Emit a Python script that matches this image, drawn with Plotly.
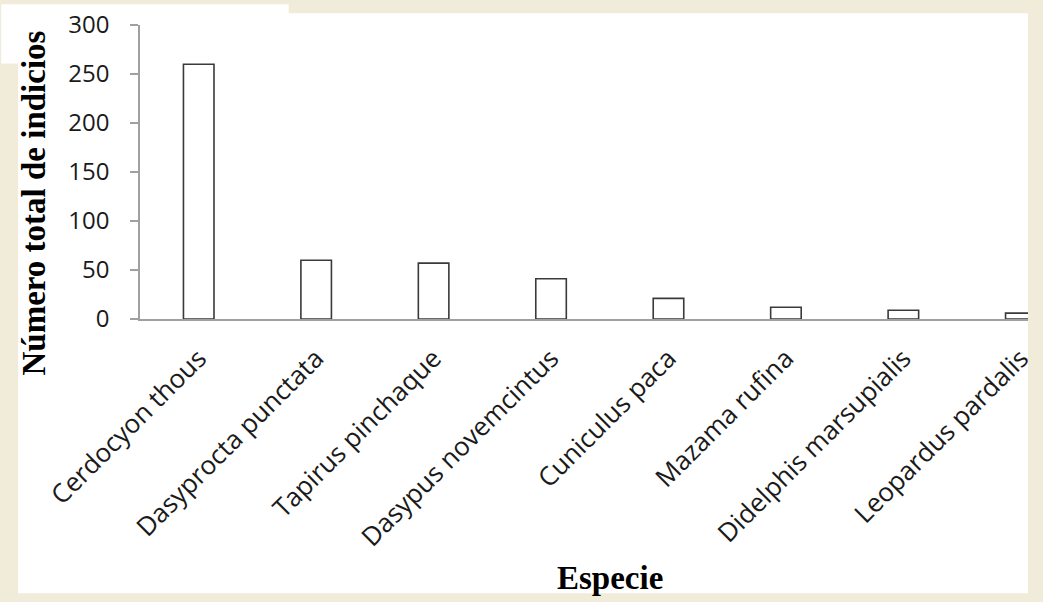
import plotly.graph_objects as go

especies = ["Cerdocyon thous", "Dasyprocta punctata", "Tapirus pinchaque",
            "Dasypus novemcintus", "Cuniculus paca", "Mazama rufina",
            "Didelphis marsupialis", "Leopardus pardalis"]
indicios = [260, 60, 57, 41, 21, 12, 9, 6]
y_ticks = [0, 50, 100, 150, 200, 250, 300]

W, H = 1043, 602
ML, MR, MT, MB = 140, 7, 21, 283
pw = W - ML - MR
ph = H - MT - MB

def px_x(px):
    return (px - ML) / pw

def px_y(py):
    return (H - MB - py) / ph

beige = "#f1ecda"
fig = go.Figure()
fig.add_trace(go.Bar(
    x=list(range(len(especies))), y=indicios,
    width=0.26,
    marker=dict(color="white", line=dict(color="#3a3a3a", width=1.6)),
    hoverinfo="skip",
))

fig.update_layout(
    width=W, height=H,
    margin=dict(l=ML, r=MR, t=MT, b=MB, pad=0),
    paper_bgcolor=beige,
    plot_bgcolor="white",
    showlegend=False,
    font=dict(family="Open Sans", color="#1a1a1a"),
    xaxis=dict(
        tickmode="array", tickvals=list(range(len(especies))), ticktext=especies,
        range=[-0.5, -0.5 + pw / 118.5],
        tickangle=-45, tickfont=dict(size=26, family="Open Sans", color="#1a1a1a"),
        showline=True, linecolor="#a0a0a0", linewidth=1.5,
        showgrid=False, zeroline=False, ticks="",
        ticklabelstandoff=12, ticklabeloverflow="allow",
    ),
    yaxis=dict(
        range=[0, 300], tickvals=y_ticks,
        tickfont=dict(size=24, family="Open Sans", color="#1a1a1a"),
        showline=True, linecolor="#a0a0a0", linewidth=1.5,
        ticks="outside", ticklen=8, tickcolor="#a0a0a0", tickwidth=1.5,
        showgrid=False, zeroline=False,
        ticklabelstandoff=16,
    ),
    shapes=[
        dict(type="rect", xref="paper", yref="paper", layer="below",
             x0=px_x(17), x1=px_x(1036), y0=px_y(597), y1=px_y(9),
             fillcolor="white", line=dict(width=0)),
        dict(type="rect", xref="paper", yref="paper", layer="below",
             x0=px_x(0), x1=px_x(290), y0=px_y(60), y1=px_y(0),
             fillcolor="white", line=dict(width=0)),
    ],
    annotations=[
        dict(text="<b>Número total de indicios</b>", xref="paper", yref="paper",
             x=px_x(33), y=px_y(201), textangle=-90, showarrow=False,
             xanchor="center", yanchor="middle",
             font=dict(family="Liberation Serif", size=33, color="black")),
        dict(text="<b>Especie</b>", xref="paper", yref="paper",
             x=px_x(614), y=px_y(582), showarrow=False,
             xanchor="center", yanchor="middle",
             font=dict(family="Liberation Serif", size=33, color="black")),
    ],
)

fig.write_html("out.html", config={"displayModeBar": False},
               post_script="document.body.style.margin='0';document.body.style.overflow='hidden';")
